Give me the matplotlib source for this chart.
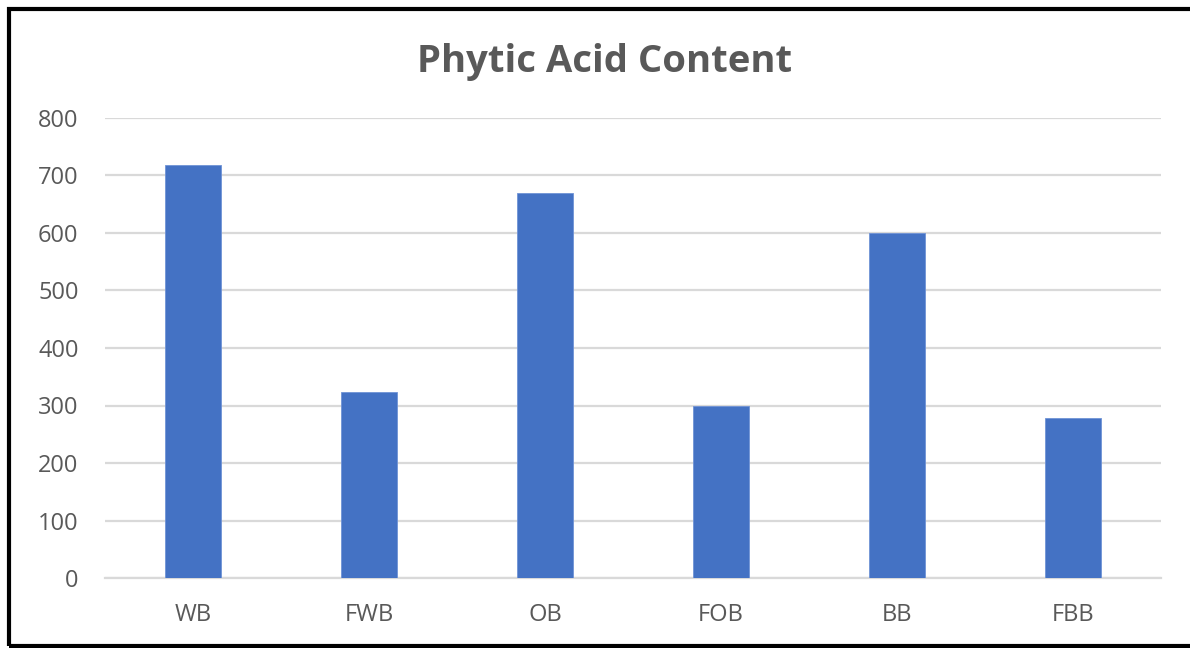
import matplotlib
matplotlib.use("Agg")
import matplotlib.pyplot as plt
from matplotlib.patches import Rectangle

categories = ["WB", "FWB", "OB", "FOB", "BB", "FBB"]
values = [718, 324, 670, 300, 600, 278]
yticks = [0, 100, 200, 300, 400, 500, 600, 700, 800]
title = "Phytic Acid Content"

plt.rcParams['font.family'] = ['Open Sans', 'DejaVu Sans']

fig = plt.figure(figsize=(11.9, 6.48), dpi=100)
ax = fig.add_axes([105/1190, (648-578)/648, (1161-105)/1190, (578-118)/648])

x = range(len(categories))
ax.bar(x, values, width=0.313, color="#4472C4", edgecolor="#6f93d6", linewidth=0.6, zorder=3)

ax.set_xlim(-0.5, len(categories) - 0.5)
ax.set_ylim(0, 800)
ax.set_yticks(yticks)
ax.set_xticks(list(x))
ax.set_xticklabels(categories)
ax.yaxis.grid(True, color="#d9d9d9", linewidth=1.6, zorder=0)
ax.set_axisbelow(True)
for s in ["top", "right", "left"]:
    ax.spines[s].set_visible(False)
ax.spines["bottom"].set_color("#d9d9d9")
ax.spines["bottom"].set_linewidth(1.6)
ax.tick_params(axis="both", length=0, labelsize=17, labelcolor="#595959")
ax.tick_params(axis="y", pad=19)
ax.tick_params(axis="x", pad=18)

fig.text(605/1190, 1 - 62/648, title, ha="center", va="center",
         fontsize=27.5, fontweight="bold", color="#595959")

# black border around chart (right side cut off)
fig.patches.append(Rectangle((9/1190, 2/648), 1.2, 637/648, transform=fig.transFigure,
                             fill=False, edgecolor="black", linewidth=3))

fig.savefig("out.png", dpi=100, facecolor="white")
